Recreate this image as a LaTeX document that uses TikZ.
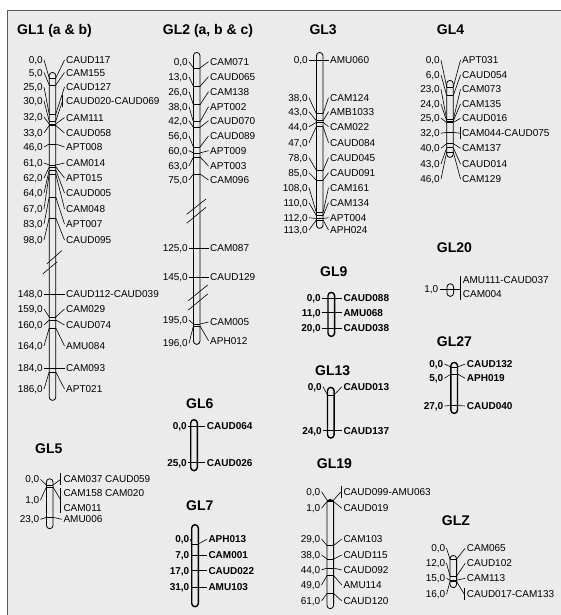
\documentclass[tikz,border=0pt]{standalone}
\usepackage{fontspec}
\setmainfont{Liberation Sans}
\usetikzlibrary{calc}
\definecolor{bg}{HTML}{EBEBEB}
\definecolor{framec}{HTML}{5A5A5A}
\def\hw{3.3}
\def\labfont{\mdseries}
\tikzset{
  barshape/.style={draw=black, line width=0.8pt, inner sep=0pt, minimum width=6.6pt, rounded corners=3.3pt, fill=bg},
  boldbar/.style={line width=1.4pt},
  tickline/.style={draw=black, line width=0.7pt},
  conn/.style={draw=black, line width=0.6pt},
  plab/.style={anchor=east, inner sep=0pt, font={\fontsize{10}{12}\selectfont\labfont}, text height=7.2pt, text depth=0pt},
  nlab/.style={anchor=west, inner sep=0pt, font={\fontsize{10}{12}\selectfont\labfont}, text height=7.2pt, text depth=0pt},
  ttl/.style={anchor=west, inner sep=0pt, font={\fontsize{14}{16}\selectfont\bfseries}, text height=10pt, text depth=0pt},
}
% chromosome: name, cx, top, bottom, left-label end x, right-label start x, extra style
\newcommand\chrom[7]{%
  \def\cn{#1}\def\cx{#2}\def\lx{#5}\def\rx{#6}%
  \node[barshape,#7, minimum height={(#4-#3)*1pt}, anchor=north] (#1) at (#2,#3) {};
}
% marker: id, tick y, left label y, position text, right label y, name
\newcommand\mk[6]{%
  \coordinate (\cn-#1-l) at ({\cx-\hw},#2);
  \coordinate (\cn-#1-r) at ({\cx+\hw},#2);
  \draw[tickline] (\cn-#1-l) -- (\cn-#1-r);
  \node[plab] (\cn-#1-p) at (\lx,#3) {#4};
  \draw[conn] ([xshift=1pt]\cn-#1-p.east) -- (\cn-#1-l);
  \node[nlab] (\cn-#1-n) at (\rx,#5) {#6};
  \draw[conn] (\cn-#1-r) -- ([xshift=-1.5pt]\cn-#1-n.west);
}
% grouped marker: id, tick y, left label y, position text, group bar x, y1, y2, target y
\newcommand\mkg[8]{%
  \coordinate (\cn-#1-l) at ({\cx-\hw},#2);
  \coordinate (\cn-#1-r) at ({\cx+\hw},#2);
  \draw[tickline] (\cn-#1-l) -- (\cn-#1-r);
  \node[plab] (\cn-#1-p) at (\lx,#3) {#4};
  \draw[conn] ([xshift=1pt]\cn-#1-p.east) -- (\cn-#1-l);
  \coordinate (\cn-#1-g1) at (#5,#6);
  \coordinate (\cn-#1-g2) at (#5,#7);
  \coordinate (\cn-#1-gm) at (#5,#8);
  \draw[conn] (\cn-#1-g1) -- (\cn-#1-g2);
  \draw[conn] (\cn-#1-r) -- (\cn-#1-gm);
}
\newcommand\gname[3]{\node[nlab] (\cn-#1) at (\rx,#2) {#3};}
\begin{document}
\begin{tikzpicture}[x=1pt,y=-1pt]
\useasboundingbox (0,0) rectangle (560,615);
\fill[white] (0,0) rectangle (560,615);
\draw[fill=bg, draw=framec, line width=1.5pt] (7.5,10.5) rectangle (566,621);

% titles
\node[ttl] (t1) at (17,30) {GL1 (a \& b)};
\node[ttl] (t2) at (162.7,30) {GL2 (a, b \& c)};
\node[ttl] (t3) at (309.3,30) {GL3};
\node[ttl] (t4) at (436.7,30) {GL4};
\node[ttl] (t20) at (436.7,247.3) {GL20};
\node[ttl] (t27) at (436.7,341.7) {GL27};
\node[ttl] (t9) at (320,271.7) {GL9};
\node[ttl] (t13) at (315,370) {GL13};
\node[ttl] (t6) at (186,403) {GL6};
\node[ttl] (t7) at (186,505) {GL7};
\node[ttl] (t5) at (35,448.3) {GL5};
\node[ttl] (t19) at (316.7,463.3) {GL19};
\node[ttl] (tz) at (441.7,520) {GLZ};

% GL1
\chrom{GL1}{52.5}{72}{400}{43}{66}{}
\mk{a}{78}{60}{0,0}{60}{CAUD117}
\mk{b}{85}{72.5}{5,0}{72.5}{CAM155}
\mk{c}{114}{87}{25,0}{87}{CAUD127}
\mkg{d}{121}{101}{30,0}{62.5}{95}{107}{101}
\gname{dn}{101}{CAUD020-CAUD069}
\mk{e}{124}{117}{32,0}{117.5}{CAM111}
\mk{f}{125.5}{133}{33,0}{133}{CAUD058}
\mk{g}{144}{147}{46,0}{147}{APT008}
\mk{h}{165}{163}{61,0}{163}{CAM014}
\mk{i}{167}{178}{62,0}{178}{APT015}
\mk{j}{170}{193}{64,0}{193}{CAUD005}
\mk{k}{174}{209}{67,0}{209}{CAM048}
\mk{l}{197}{224}{83,0}{224}{APT007}
\mk{m}{218}{240}{98,0}{240}{CAUD095}
\mk{n}{294}{294}{148,0}{294}{CAUD112-CAUD039}
\mk{o}{317}{309}{159,0}{309}{CAM029}
\mk{p}{320}{325}{160,0}{325}{CAUD074}
\mk{q}{328}{346}{164,0}{346}{AMU084}
\mk{r}{368}{368}{184,0}{368}{CAM093}
\mk{s}{372}{389}{186,0}{389}{APT021}
\draw[conn] (46.7,264) -- (61.7,250.7);
\draw[conn] (42.7,274) -- (57.3,261.7);

% GL2
\chrom{GL2}{196.7}{52}{344}{188}{210}{}
\mk{a}{68}{61.7}{0,0}{61.7}{CAM071}
\mk{b}{86.4}{76.7}{13,0}{76.7}{CAUD065}
\mk{c}{104.8}{91.7}{26,0}{91.7}{CAM138}
\mk{d}{121.8}{106.7}{38,0}{106.7}{APT002}
\mk{e}{127.4}{120.7}{42,0}{120.7}{CAUD070}
\mk{f}{147}{136}{56,0}{136}{CAUD089}
\mk{g}{152.9}{150.7}{60,0}{150.7}{APT009}
\mk{h}{157}{166}{63,0}{166}{APT003}
\mk{i}{174}{180}{75,0}{180}{CAM096}
\mk{j}{248.3}{248.3}{125,0}{248.3}{CAM087}
\mk{k}{277.3}{277.3}{145,0}{277.3}{CAUD129}
\mk{l}{324}{320}{195,0}{322}{CAM005}
\mk{m}{326}{343.3}{196,0}{340.7}{APH012}
\draw[conn] (186.7,214.3) -- (206,199);
\draw[conn] (186.7,223.3) -- (206,207.3);
\draw[conn] (188.3,300.7) -- (207.7,285);
\draw[conn] (188.3,310) -- (207.7,294);

% GL3
\chrom{GL3}{319.7}{52}{228}{308}{330}{}
\mk{a}{60}{60}{0,0}{60}{AMU060}
\mk{b}{113.8}{97.7}{38,0}{97.7}{CAM124}
\mk{c}{120.8}{111.7}{43,0}{111.7}{AMB1033}
\mk{d}{122.3}{126.7}{44,0}{126.7}{CAM022}
\mk{e}{126.5}{142.7}{47,0}{142.7}{CAUD084}
\mk{f}{170.4}{157.7}{78,0}{157.7}{CAUD045}
\mk{g}{180.3}{172.7}{85,0}{172.7}{CAUD091}
\mk{h}{212.8}{187.7}{108,0}{187.7}{CAM161}
\mk{i}{215.7}{202.7}{110,0}{202.7}{CAM134}
\mk{j}{218.5}{217.7}{112,0}{217.7}{APT004}
\mk{k}{219.9}{230}{113,0}{230}{APH024}

% GL4
\chrom{GL4}{450}{80}{157}{440}{462}{}
\mk{a}{87}{60}{0,0}{60}{APT031}
\mk{b}{95.5}{75}{6,0}{75}{CAUD054}
\mk{c}{119.5}{89.3}{23,0}{89.3}{CAM073}
\mk{d}{121}{104}{24,0}{104}{CAM135}
\mk{e}{122.4}{118.3}{25,0}{118.3}{CAUD016}
\mkg{f}{132.3}{133.3}{32,0}{460}{127.3}{139.3}{133.3}
\gname{fn}{133.3}{CAM044-CAUD075}
\mk{g}{143.6}{148.3}{40,0}{148.3}{CAM137}
\mk{h}{147.8}{164}{43,0}{164}{CAUD014}
\mk{i}{152}{179}{46,0}{179}{CAM129}

% GL20
\chrom{GL20}{450.3}{283.3}{296}{438.5}{462.7}{}
\mkg{a}{289.3}{289.3}{1,0}{460}{276}{300}{289.3}
\gname{an1}{280}{AMU111-CAUD037}
\gname{an2}{294}{CAM004}

% GL5
\chrom{GL5}{49.7}{478.3}{528.3}{39.5}{63.3}{}
\mkg{a}{485}{479.3}{0,0}{60.7}{473.3}{485.3}{479.3}
\gname{an}{479.3}{CAM037 CAUD059}
\mkg{b}{487}{500}{1,0}{60.7}{488.3}{513.3}{500}
\gname{bn1}{492.7}{CAM158 CAM020}
\gname{bn2}{508.3}{CAM011}
\mk{c}{517.3}{519.3}{23,0}{519.3}{AMU006}

% GL19
\chrom{GL19}{330.3}{499}{608.3}{320.5}{343.3}{}
\mkg{a}{500}{491.7}{0,0}{341}{485.7}{497.7}{491.7}
\gname{an}{491.7}{CAUD099-AMU063}
\mk{b}{501.5}{508.3}{1,0}{508.3}{CAUD019}
\mk{c}{545.5}{539}{29,0}{539}{CAM103}
\mk{d}{559}{555}{38,0}{555}{CAUD115}
\mk{e}{568}{570}{44,0}{570}{CAUD092}
\mk{f}{575.5}{585}{49,0}{585}{AMU114}
\mk{g}{593.5}{601}{61,0}{601}{CAUD120}

% GLZ
\chrom{GLZ}{453.3}{555}{587.3}{445.5}{466.7}{}
\mk{a}{559}{548.3}{0,0}{548.3}{CAM065}
\mk{b}{576}{563.3}{12,0}{563.3}{CAUD102}
\mk{c}{580.2}{578.3}{15,0}{578.3}{CAM113}
\mkg{d}{581.6}{594.3}{16,0}{464.3}{588.3}{600.3}{594.3}
\gname{dn}{594.3}{CAUD017-CAM133}

% bold maps
\def\labfont{\bfseries}
\chrom{GL27}{454.2}{361.7}{412.7}{443.5}{466.7}{boldbar}
\mk{a}{367}{364}{0,0}{364}{CAUD132}
\mk{b}{374}{378.3}{5,0}{378.3}{APH019}
\mk{c}{405.5}{406}{27,0}{406}{CAUD040}

\chrom{GL9}{331.3}{291.7}{335.7}{321}{343.3}{boldbar}
\mk{a}{298.3}{298.3}{0,0}{298.3}{CAUD088}
\mk{b}{312.7}{312.7}{11,0}{312.7}{AMU068}
\mk{c}{328.3}{328.3}{20,0}{328.3}{CAUD038}

\chrom{GL13}{330.8}{386.7}{437.3}{322}{343.3}{boldbar}
\mk{a}{395}{386.7}{0,0}{386.7}{CAUD013}
\mk{b}{430.7}{430.7}{24,0}{430.7}{CAUD137}

\chrom{GL6}{194}{419}{470}{187}{206.7}{boldbar}
\mk{a}{426}{426}{0,0}{426}{CAUD064}
\mk{b}{462.7}{462.7}{25,0}{462.7}{CAUD026}

\chrom{GL7}{195}{524}{606}{189.5}{208.3}{boldbar}
\mk{a}{544}{539.3}{0,0}{539.3}{APH013}
\mk{b}{555}{555}{7,0}{555}{CAM001}
\mk{c}{570.7}{570.7}{17,0}{570.7}{CAUD022}
\mk{d}{587.3}{587.3}{31,0}{587.3}{AMU103}
\end{tikzpicture}
\end{document}
